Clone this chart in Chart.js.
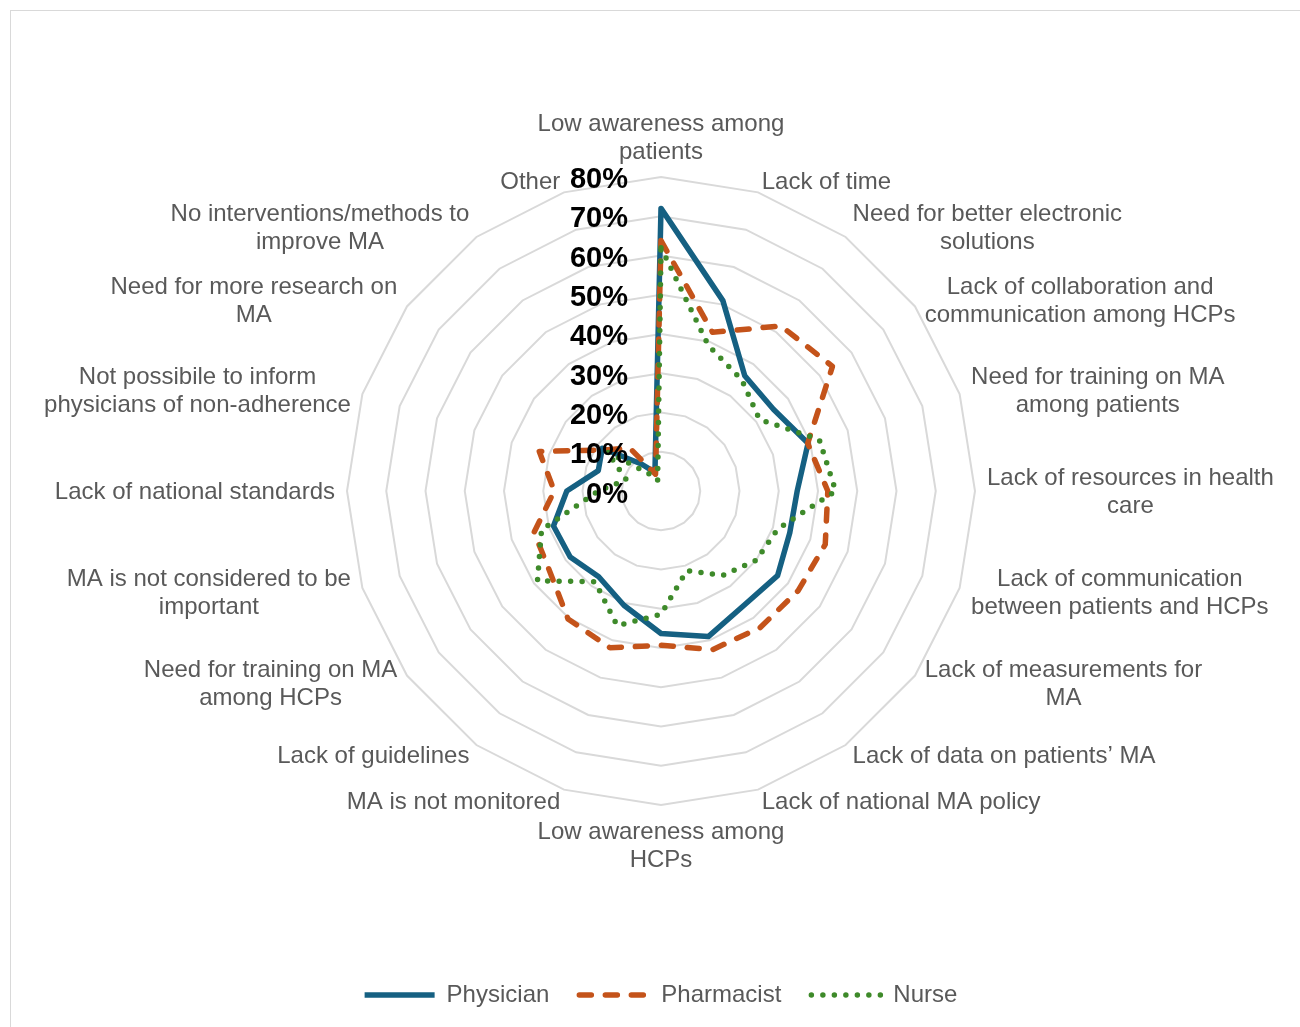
<!DOCTYPE html>
<html>
<head>
<meta charset="utf-8">
<title>Barriers to medication adherence by profession</title>
<script src="https://cdn.jsdelivr.net/npm/chart.js@4.4.1/dist/chart.umd.min.js"></script>
<style>
    html, body { margin: 0; padding: 0; background: #fff; overflow: hidden; }
    .frame { position: absolute; left: 10px; top: 10px; width: 1400px; height: 1100px; border: 1px solid #d9d9d9; }
    #radarChart { position: absolute; left: 0; top: 0; }
</style>
</head>
<body>
<div class="frame"></div>
<canvas id="radarChart" width="1300" height="1027"></canvas>
<script>
// ================================
// DATA
// ================================
const categories = [
    ["Low awareness among", "patients"],
    ["Lack of time"],
    ["Need for better electronic", "solutions"],
    ["Lack of collaboration and", "communication among HCPs"],
    ["Need for training on MA", "among patients"],
    ["Lack of resources in health", "care"],
    ["Lack of communication", "between patients and HCPs"],
    ["Lack of measurements for", "MA"],
    ["Lack of data on patients\u2019 MA"],
    ["Lack of national MA policy"],
    ["Low awareness among", "HCPs"],
    ["MA is not monitored"],
    ["Lack of guidelines"],
    ["Need for training on MA", "among HCPs"],
    ["MA is not considered to be", "important"],
    ["Lack of national standards"],
    ["Not possibile to inform", "physicians of non-adherence"],
    ["Need for more research on", "MA"],
    ["No interventions/methods to", "improve MA"],
    ["Other"]
];

const physician  = [72, 51, 36.3, 35.4, 39.4, 34.7, 34.5, 36.7, 36, 39, 36.3, 30.6, 27, 28.6, 28.8, 24, 16.8, 18.5, 8.5, 5];
const pharmacist = [63.8, 42.5, 52, 54, 39.3, 42.5, 44, 43.2, 43, 42.5, 39.3, 42, 40.3, 35, 34, 27.2, 32.6, 17.8, 13.5, 4.5];
const nurse      = [62, 39, 35, 31, 42.4, 44.5, 31.3, 30, 26.6, 21.3, 31.4, 36.1, 28.6, 38.9, 32, 16, 9.3, 17, 5.6, 2.8];

const rTicks = [0, 10, 20, 30, 40, 50, 60, 70, 80];

const FONT = '"Liberation Sans", Arial, sans-serif';

document.addEventListener("DOMContentLoaded", () => {

    /* ------------------------------
       CATEGORY NAMES + % TICKS
    ------------------------------ */
    const radarText = {
        id: "radarText",
        afterDatasetsDraw(chart) {
            const scale = chart.scales.r;
            const ctx = chart.ctx;
            const lineH = 28;
            const outer = scale.drawingArea + 12;

            ctx.save();
            ctx.font = "24px " + FONT;
            ctx.fillStyle = "#595959";
            ctx.textBaseline = "middle";
            ctx.textAlign = "center";

            chart.data.labels.forEach((lines, i) => {
                const pos = scale.getPointPosition(i, outer);
                const deg = Math.round(scale.getIndexAngle(i) * 180 / Math.PI) % 360;
                const blockW = Math.max(...lines.map(l => ctx.measureText(l).width));
                let cx = pos.x;
                let top;

                if (deg === 0) {
                    top = pos.y - lines.length * lineH;
                } else if (deg === 180) {
                    top = pos.y;
                } else {
                    cx = deg < 180 ? pos.x + blockW / 2 : pos.x - blockW / 2;
                    top = pos.y - lines.length * lineH / 2;
                }
                lines.forEach((l, k) => ctx.fillText(l, cx, top + lineH * (k + 0.5) + 1.5));
            });

            ctx.font = "bold 29px " + FONT;
            ctx.fillStyle = "#000000";
            ctx.textAlign = "right";
            scale.ticks.forEach(t => {
                const y = scale.yCenter - scale.getDistanceFromCenterForValue(t.value);
                ctx.fillText(t.value + "%", scale.xCenter - 33, y + 3.5 - t.value / 80 * 0.5);
            });
            ctx.restore();
        }
    };

    /* ------------------------------
       RADAR CHART
    ------------------------------ */
    const ctx = document.getElementById("radarChart");

    new Chart(ctx, {
        type: "radar",
        data: {
            labels: categories,
            datasets: [
                {
                    label: "Physician",
                    data: physician,
                    order: 3,
                    borderColor: "#156082",
                    borderWidth: 5.5,
                    borderJoinStyle: "round",
                    fill: false
                },
                {
                    label: "Pharmacist",
                    data: pharmacist,
                    order: 2,
                    borderColor: "#c4531a",
                    borderWidth: 5.5,
                    borderDash: [12, 14],
                    borderCapStyle: "round",
                    borderJoinStyle: "round",
                    fill: false
                },
                {
                    label: "Nurse",
                    data: nurse,
                    order: 1,
                    borderColor: "#3e8a2a",
                    borderWidth: 5.5,
                    borderDash: [0, 11.5],
                    borderCapStyle: "round",
                    borderJoinStyle: "round",
                    fill: false
                }
            ]
        },
        options: {
            responsive: false,
            animation: false,
            devicePixelRatio: 1,
            layout: { padding: { top: 177, left: 22, right: 0, bottom: 10 } },
            elements: {
                point: { radius: 0, hoverRadius: 0 },
                line: { tension: 0 }
            },
            scales: {
                r: {
                    min: 0,
                    max: 80,
                    afterBuildTicks: scale => {
                        scale.ticks = rTicks.map(v => ({ value: v }));
                    },
                    ticks: { display: false },
                    grid: { color: "#d9d9d9", lineWidth: 2 },
                    angleLines: { display: false },
                    pointLabels: { display: false }
                }
            },
            plugins: {
                tooltip: { enabled: false },
                legend: {
                    position: "bottom",
                    title: {
                        display: true,
                        text: "",
                        font: { size: 10, lineHeight: 1 },
                        padding: { top: 0, bottom: 138 }
                    },
                    labels: {
                        usePointStyle: true,
                        pointStyleWidth: 70,
                        padding: 30,
                        color: "#595959",
                        font: { family: FONT, size: 24 },
                        generateLabels: chart => chart.data.datasets.map((ds, i) => ({
                            text: ds.label,
                            datasetIndex: i,
                            hidden: !chart.isDatasetVisible(i),
                            strokeStyle: ds.borderColor,
                            fillStyle: ds.borderColor,
                            lineWidth: ds.borderWidth,
                            lineDash: ds.borderDash || [],
                            lineCap: ds.borderCapStyle || "butt",
                            pointStyle: "line",
                            fontColor: "#595959"
                        }))
                    }
                }
            }
        },
        plugins: [radarText]
    });

});
</script>
</body>
</html>
